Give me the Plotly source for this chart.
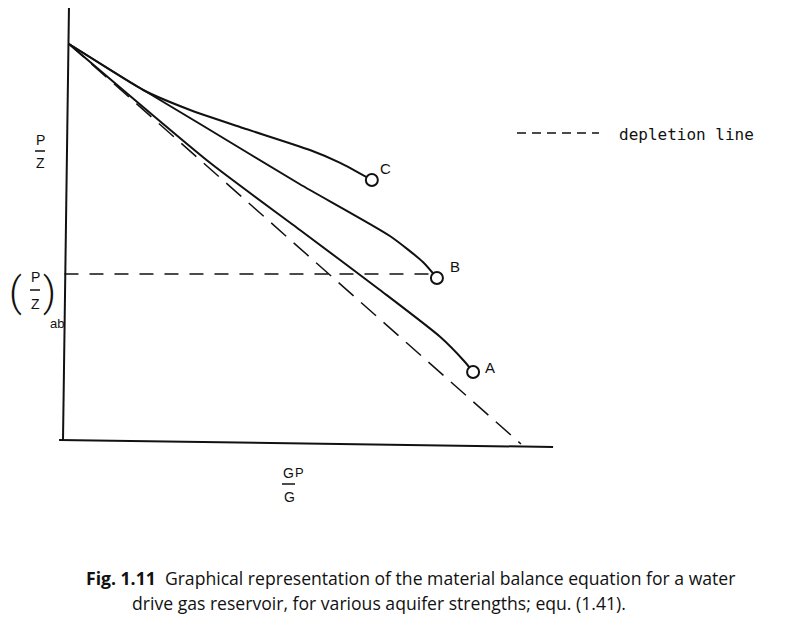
import plotly.graph_objects as go

# ---------------- data (normalised: Gp/G on x, P/Z on y) ----------------
depletion_x = [0.0, 1.0]
depletion_y = [1.0, 0.0]

curve_c_x = [0.0, 0.091, 0.164, 0.268, 0.385, 0.533, 0.600, 0.670]
curve_c_y = [1.0, 0.935, 0.885, 0.835, 0.790, 0.735, 0.703, 0.660]

curve_b_x = [0.0, 0.128, 0.290, 0.510, 0.710, 0.783, 0.814]
curve_b_y = [1.0, 0.910, 0.800, 0.650, 0.520, 0.455, 0.415]

curve_a_x = [0.0, 0.312, 0.511, 0.688, 0.821, 0.876, 0.894]
curve_a_y = [1.0, 0.703, 0.535, 0.385, 0.268, 0.205, 0.180]

end_labels = ["C", "B", "A"]
pz_ab = 0.425

# ---------------- frame ----------------
W, H = 787, 627
OFF = 8              # page offset of the figure inside the window
X0, XS = 69 - OFF, 452     # pixel of x=0, pixels per unit
Y0, YS = 444 - OFF, 400    # pixel of y=0, pixels per unit
x_range = [(0 - X0) / XS, (W - X0) / XS]
y_range = [(Y0 - H) / YS, (Y0 - 0) / YS]


def px(x, y):
    """window pixel -> paper coordinates"""
    return (x - OFF) / W, 1 - (y - OFF) / H


fig = go.Figure()
black = "#111111"

# axes (drawn like the scanned figure, slightly tilted)
fig.add_trace(go.Scatter(x=[0.0, -0.0133], y=[1.0975, 0.0075], mode="lines",
                         line=dict(color=black, width=2), hoverinfo="skip"))
fig.add_trace(go.Scatter(x=[-0.022, 1.071], y=[0.01, -0.0075], mode="lines",
                         line=dict(color=black, width=2), hoverinfo="skip"))

# depletion line
fig.add_trace(go.Scatter(x=depletion_x, y=depletion_y, mode="lines",
                         line=dict(color=black, width=1.5, dash="20px,10px"),
                         hoverinfo="skip"))

# (P/Z)ab horizontal dashed line
fig.add_trace(go.Scatter(x=[-0.01, curve_b_x[-1] - 0.012], y=[pz_ab, pz_ab], mode="lines",
                         line=dict(color=black, width=1.6, dash="14px,11px"),
                         hoverinfo="skip"))

for cx, cy in [(curve_c_x, curve_c_y), (curve_b_x, curve_b_y), (curve_a_x, curve_a_y)]:
    fig.add_trace(go.Scatter(x=cx, y=cy, mode="lines",
                             line=dict(color=black, width=2, shape="spline", smoothing=0.6),
                             hoverinfo="skip"))

# end circles
end_x = [curve_c_x[-1], curve_b_x[-1], curve_a_x[-1]]
end_y = [curve_c_y[-1], curve_b_y[-1], curve_a_y[-1]]
fig.add_trace(go.Scatter(x=end_x, y=end_y, mode="markers",
                         marker=dict(symbol="circle", size=12, color="white",
                                     line=dict(width=2, color=black)),
                         hoverinfo="skip"))

fig.update_xaxes(range=x_range, visible=False)
fig.update_yaxes(range=y_range, visible=False)

ann = []
lab_font = dict(family="Liberation Sans", size=14, color=black)

for lx, ly, lt, sx, sy in zip(end_x, end_y, end_labels, [14, 18, 17], [12, 12, 5]):
    ann.append(dict(x=lx, y=ly, xref="x", yref="y", text=lt, showarrow=False,
                    xshift=sx, yshift=sy, font=dict(family="Liberation Sans", size=15, color=black)))


def text(x, y, s, font=lab_font, xanchor="center"):
    xp, yp = px(x, y)
    ann.append(dict(x=xp, y=yp, xref="paper", yref="paper", text=s, showarrow=False,
                    xanchor=xanchor, yanchor="middle", font=font))


paren_font = dict(family="Roboto", size=40, color=black, weight=300)

# y label P/Z
text(40, 140, "P")
text(40, 163, "Z")
# (P/Z)ab
text(35, 277, "P")
text(35, 304, "Z")
text(15, 292, "(", font=paren_font)
text(49, 292, ")", font=paren_font)
text(57, 323, "ab", font=dict(family="Liberation Sans", size=13, color=black))
# Gp/G
text(288, 473, "G")
text(299, 472, "P", font=dict(family="Liberation Sans", size=13, color=black))
text(289, 497, "G")
# legend
text(617, 135, "depletion line", font=dict(family="DejaVu Sans Mono", size=16, color=black),
     xanchor="left")
# caption
cap_font = dict(family="Open Sans", size=17.6, color=black)
text(84, 578, "<b>Fig. 1.11</b>  Graphical representation of the material balance equation for a water",
     font=cap_font, xanchor="left")
text(130, 603, "drive gas reservoir, for various aquifer strengths; equ. (1.41).",
     font=cap_font, xanchor="left")

shapes = []


def hbar(x1, x2, y, dash="solid", width=1.5):
    a = px(x1, y)
    b = px(x2, y)
    shapes.append(dict(type="line", xref="paper", yref="paper", x0=a[0], y0=a[1], x1=b[0], y1=b[1],
                       line=dict(color=black, width=width, dash=dash)))


hbar(35, 45, 151)
hbar(30, 40, 290)
hbar(282, 295, 484)
hbar(517, 599, 133, dash="9px,6px", width=1.6)

fig.update_layout(width=W, height=H, margin=dict(l=0, r=0, t=0, b=0, pad=0),
                  paper_bgcolor="white", plot_bgcolor="white", showlegend=False,
                  annotations=ann, shapes=shapes)

fig.write_html("out.html")
